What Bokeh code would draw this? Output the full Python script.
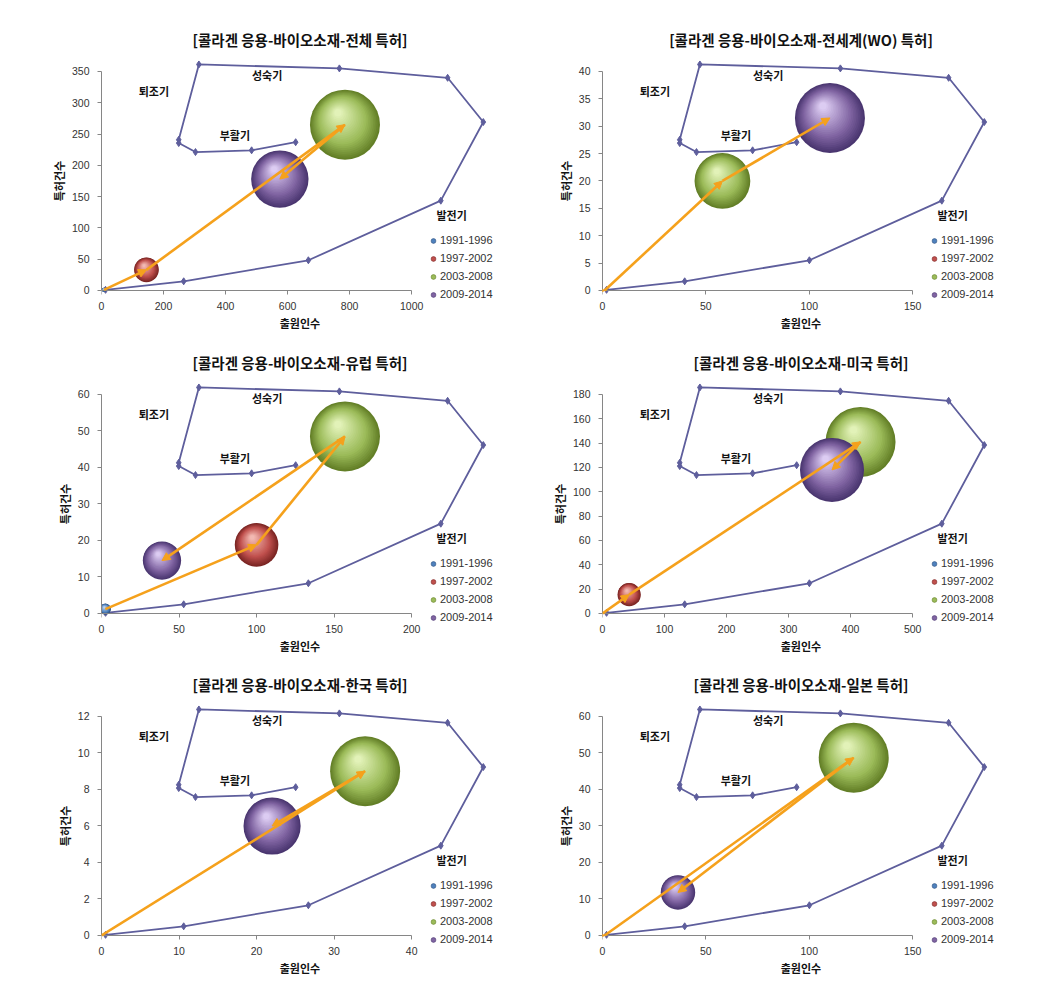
import math
from bokeh.plotting import figure
from bokeh.layouts import gridplot
from bokeh.models import (Range1d, ColumnDataSource, Arrow, NormalHead, Legend,
                          LegendItem, FixedTicker, LinearAxis)
from bokeh.embed import file_html
from bokeh.resources import INLINE
from bokeh.core.properties import value

# ---------------- data ----------------
PERIODS = ["1991-1996", "1997-2002", "2003-2008", "2009-2014"]

TITLES = ["[콜라겐 응용-바이오소재-전체 특허]",
          "[콜라겐 응용-바이오소재-전세계(WO) 특허]",
          "[콜라겐 응용-바이오소재-유럽 특허]",
          "[콜라겐 응용-바이오소재-미국 특허]",
          "[콜라겐 응용-바이오소재-한국 특허]",
          "[콜라겐 응용-바이오소재-일본 특허]"]

X_MAX = [1000, 150, 200, 500, 40, 150]
Y_MAX = [350, 40, 60, 180, 12, 60]
X_STEP = [200, 50, 50, 100, 10, 50]
Y_STEP = [50, 5, 10, 20, 2, 10]

# 출원인수 (applicants) and 특허건수 (patents) per period
APPL_TOTAL = [8, 145, 785, 575]
PAT_TOTAL = [1, 33, 265, 178]
APPL_WO = [0, 1, 58, 110]
PAT_WO = [0, 0, 20, 31.5]
APPL_EP = [2.5, 100, 157, 39]
PAT_EP = [1.2, 18.8, 48.5, 14.5]
APPL_US = [0, 43, 416, 370]
PAT_US = [0, 15.5, 141, 118]
APPL_KR = [0, 0, 34, 22]
PAT_KR = [0, 0, 9, 6]
APPL_JP = [0, 1, 121.5, 36.5]
PAT_JP = [0, 0, 48.7, 11.8]

APPL = [APPL_TOTAL, APPL_WO, APPL_EP, APPL_US, APPL_KR, APPL_JP]
PAT = [PAT_TOTAL, PAT_WO, PAT_EP, PAT_US, PAT_KR, PAT_JP]

# technology life-cycle outline (fractions of each panel's axis maxima)
HULL_FX = [0.013, 0.265, 0.667, 1.094, 1.231, 1.116, 0.767, 0.314,
           0.249, 0.249, 0.303, 0.484, 0.626]
HULL_FY = [0.003, 0.042, 0.138, 0.410, 0.769, 0.971, 1.014, 1.032,
           0.688, 0.673, 0.632, 0.640, 0.677]
STAGE_NAMES = ["퇴조기", "성숙기", "부활기", "발전기"]
STAGE_FX = [0.169, 0.534, 0.430, 1.129]
STAGE_FY = [0.913, 0.982, 0.708, 0.346]

# ---------------- style / layout ----------------
KFONT = "Noto Sans CJK KR"
NFONT = "Liberation Sans"
ORANGE = "#F5A11C"
HULL_C = "#5E5E9C"
AXIS_C = "#868686"
# edge, base, highlight
SPHERE = [("#2E5180", "#4F81BD", "#BFD5F0"),
          ("#7A2523", "#C0504D", "#F2B9B2"),
          ("#637F27", "#9BBB59", "#E2F2B8"),
          ("#4A3670", "#8064A2", "#DCCCF2")]

AX_W, AX_H = 310, 219          # pixel length of the 0..max axes
XF, YF = 1.28, 1.05            # frame extent beyond axis maxima
BELOW = 11                     # frame pixels below y = 0
FRAME_W = round(AX_W * XF)
FRAME_H = round(AX_H * YF) + BELOW
COL_LEFT = [101, 80]
COL_W = [522, 514]
ROW_TOP = [60, 50, 49]
BOTTOM = 32
R_MAX = 35.0
N_LAYERS = 24


def hex2rgb(h):
    h = h.lstrip("#")
    return tuple(int(h[i:i + 2], 16) for i in (0, 2, 4))


def mix(a, b, t):
    ra, rb = hex2rgb(a), hex2rgb(b)
    return "#%02x%02x%02x" % tuple(int(round(ra[i] + (rb[i] - ra[i]) * t)) for i in range(3))


def shade(edge, base, hi, t):
    if t < 0.35:
        return mix(edge, base, t / 0.35)
    return mix(base, hi, (t - 0.35) / 0.65)


def style_axis(ax, mx, st):
    ax.bounds = (0, mx)
    ax.ticker = FixedTicker(ticks=list(range(0, mx + st, st)))
    ax.axis_line_color = AXIS_C
    ax.major_tick_line_color = AXIS_C
    ax.major_tick_out = 4
    ax.major_tick_in = 0
    ax.minor_tick_line_color = None
    ax.major_label_text_font = NFONT
    ax.major_label_text_font_size = "10.5px"
    ax.major_label_text_color = "#333333"
    ax.axis_label_text_font = KFONT
    ax.axis_label_text_font_size = "11px"
    ax.axis_label_text_font_style = "bold"
    ax.axis_label_text_color = "#111111"


def panel(i):
    xmax, ymax = X_MAX[i], Y_MAX[i]
    col, row = i % 2, i // 2
    left = COL_LEFT[col]
    right = COL_W[col] - left - FRAME_W
    top = ROW_TOP[row]
    pxx = AX_W / xmax
    pxy = AX_H / ymax
    p = figure(frame_width=FRAME_W, frame_height=FRAME_H,
               x_range=Range1d(0, XF * xmax),
               y_range=Range1d(-BELOW / pxy, YF * ymax),
               x_axis_location=None,
               output_backend="svg", toolbar_location=None,
               min_border_left=left, min_border_right=right,
               min_border_top=top, min_border_bottom=BOTTOM)
    p.outline_line_color = None
    p.xgrid.visible = False
    p.ygrid.visible = False
    p.background_fill_color = "white"

    p.title.text = TITLES[i]
    p.title.align = "center"
    p.title.text_font = KFONT
    p.title.text_font_size = "14.5px"
    p.title.text_font_style = "bold"
    p.title.text_color = "#111111"
    p.title.standoff = 21

    # y axis
    style_axis(p.yaxis[0], ymax, Y_STEP[i])
    p.yaxis.axis_label = "특허건수"
    p.yaxis.major_label_standoff = 8
    p.yaxis.axis_label_standoff = 2

    # x axis line + ticks sitting on y = 0
    xline = LinearAxis(fixed_location=0)
    style_axis(xline, xmax, X_STEP[i])
    xline.major_label_text_color = None
    p.add_layout(xline, "below")
    # x tick labels and title below the frame
    xlab = LinearAxis(axis_label="출원인수")
    style_axis(xlab, xmax, X_STEP[i])
    xlab.axis_line_color = None
    xlab.major_tick_line_color = None
    xlab.major_tick_out = 0
    xlab.major_label_standoff = 0
    xlab.axis_label_standoff = 2
    p.add_layout(xlab, "below")

    # life-cycle outline
    hx = [f * xmax for f in HULL_FX]
    hy = [f * ymax for f in HULL_FY]
    p.line(hx, hy, line_color=HULL_C, line_width=1.8)
    p.scatter(hx, hy, marker="diamond", size=7, fill_color=HULL_C, line_color=HULL_C)
    p.text([f * xmax for f in STAGE_FX], [f * ymax for f in STAGE_FY], text=STAGE_NAMES,
           text_font=value(KFONT), text_font_size="11px", text_font_style="bold",
           text_color="#111111", text_align="center", text_baseline="middle")

    # bubbles (area ~ patent count)
    xs, ys = APPL[i], PAT[i]
    smax = max(ys)
    legend_items = []
    for k, period in enumerate(PERIODS):
        edge, base, hi = SPHERE[k]
        R = R_MAX * math.sqrt(ys[k] / smax) if ys[k] > 0 else 0.0
        if R > 0:
            lx, ly, ls, lc = [], [], [], []
            for j in range(N_LAYERS):
                t = j / (N_LAYERS - 1)
                r = R * (1 - 0.9 * t)
                lx.append(xs[k] - 0.20 * R * t / pxx)
                ly.append(ys[k] + 0.34 * R * t / pxy)
                ls.append(2 * r)
                lc.append(shade(edge, base, hi, t))
            p.scatter(lx, ly, size=ls, fill_color=lc, line_color=None)
        lr = p.scatter([xs[k]], [ys[k]], size=0, fill_color=base, line_color=edge,
                       line_width=0.6)
        legend_items.append(LegendItem(label=period, renderers=[lr]))

    # trajectory arrows
    a = dict(x0=[], y0=[], x1=[], y1=[])
    for k in range(len(PERIODS) - 1):
        if xs[k] == xs[k + 1] and ys[k] == ys[k + 1]:
            continue
        a["x0"].append(xs[k]); a["y0"].append(ys[k])
        a["x1"].append(xs[k + 1]); a["y1"].append(ys[k + 1])
    p.add_layout(Arrow(end=NormalHead(size=8, fill_color=ORANGE, line_color=ORANGE),
                       x_start="x0", y_start="y0", x_end="x1", y_end="y1",
                       source=ColumnDataSource(a), line_color=ORANGE, line_width=2.6))

    leg = Legend(items=legend_items, location=(326, BELOW - 11.5),
                 glyph_width=12, glyph_height=15, label_height=15, spacing=3,
                 label_standoff=1, padding=0, margin=0,
                 border_line_color=None, background_fill_alpha=0,
                 label_text_font=NFONT, label_text_font_size="11px",
                 label_text_color="#333333")
    p.add_layout(leg)
    return p


figs = [panel(i) for i in range(6)]
grid = gridplot([[figs[0], figs[1]], [figs[2], figs[3]], [figs[4], figs[5]]],
                toolbar_location=None)
open("out.html", "w").write(file_html(grid, INLINE))
